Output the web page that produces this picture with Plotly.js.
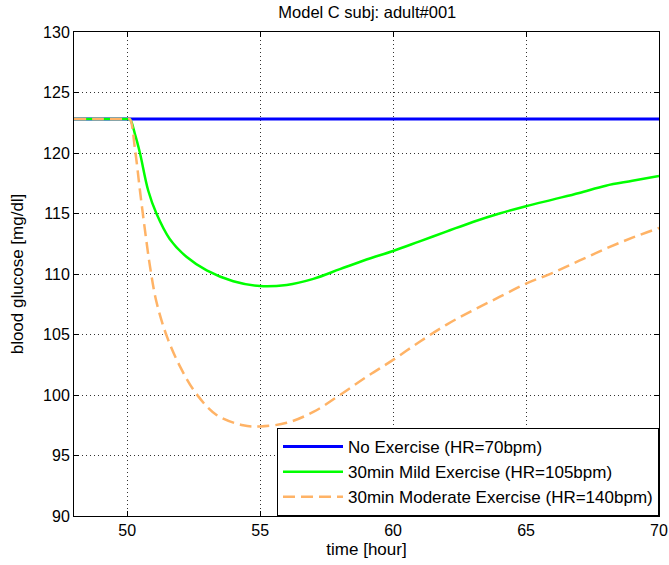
<!DOCTYPE html>
<html>
<head>
<meta charset="utf-8">
<script src="https://cdn.plot.ly/plotly-3.0.1.min.js"></script>
<style>html,body{margin:0;padding:0;background:#fff;}</style>
</head>
<body>
<div id="chart" style="width:669px;height:565px;"></div>
<script>
// Data
const tNone = [48, 70];
const gNone = [122.8, 122.8];

const tMild = [48, 49, 50, 50.1, 50.3, 50.48, 50.79, 51.1, 51.6, 52.24, 52.99, 53.99, 55, 56, 57, 58, 59, 60, 61, 62, 63, 64, 65, 66, 67, 68, 69, 70];
const gMild = [122.8, 122.8, 122.8, 122.8, 121.5, 120, 116.9, 115, 112.9, 111.4, 110.3, 109.4, 109.0, 109.1, 109.6, 110.4, 111.2, 111.9, 112.7, 113.5, 114.3, 115.0, 115.6, 116.15, 116.7, 117.3, 117.7, 118.1];

const tMod = [48, 49, 50, 50.1, 50.3, 50.48, 50.67, 50.86, 51.1, 51.5, 52.0, 52.6, 53.36, 54.36, 55, 56, 57, 58, 59, 60, 61, 62, 63, 64, 65, 66, 67, 68, 69, 70];
const gMod = [122.8, 122.8, 122.8, 122.8, 120.2, 116.9, 113.6, 110.6, 107.7, 104.8, 102.3, 100.1, 98.35, 97.5, 97.4, 97.7, 98.6, 100.0, 101.5, 102.9, 104.4, 105.8, 107.0, 108.1, 109.2, 110.1, 111.1, 112.1, 113.0, 113.8];

const names = ["No Exercise (HR=70bpm)", "30min Mild Exercise (HR=105bpm)", "30min Moderate Exercise (HR=140bpm)"];
const xTicks = [50, 55, 60, 65, 70];
const yTicks = [90, 95, 100, 105, 110, 115, 120, 125, 130];

const FONT = "Liberation Sans, Arial, sans-serif";

const traces = [
  {x: tNone, y: gNone, name: names[0], mode: "lines", line: {color: "#0000ff", width: 3}},
  {x: tMild, y: gMild, name: names[1], mode: "lines", line: {color: "#00ff00", width: 2.5, shape: "spline", smoothing: 1}},
  {x: tMod, y: gMod, name: names[2], mode: "lines", line: {color: "#ffb366", width: 2.5, dash: "12px,6px", shape: "spline", smoothing: 1}}
];

const axisCommon = {
  showline: true, linecolor: "#000", linewidth: 1, mirror: "ticks",
  ticks: "inside", ticklen: 5, tickcolor: "#000",
  showgrid: true, gridcolor: "rgba(0,0,0,0.8)", griddash: "1px,3px", gridwidth: 1,
  zeroline: false,
  tickfont: {family: FONT, size: 16, color: "#000"}
};

const layout = {
  width: 669, height: 565,
  margin: {l: 74, r: 10, t: 32, b: 49},
  paper_bgcolor: "#fff", plot_bgcolor: "#fff",
  font: {family: FONT, size: 16, color: "#000"},
  title: {text: "Model C subj: adult#001", font: {family: FONT, size: 16.5, color: "#000"}, x: 0.549, xanchor: "center", y: 0.978, yanchor: "middle"},
  xaxis: Object.assign({}, axisCommon, {
    range: [48, 70], tickvals: xTicks, ticktext: xTicks.map(String),
    title: {text: "time [hour]", font: {family: FONT, size: 17, color: "#000"}, standoff: 4}
  }),
  yaxis: Object.assign({}, axisCommon, {
    range: [90, 130], tickvals: yTicks, ticktext: yTicks.map(String),
    title: {text: "blood glucose [mg/dl]", font: {family: FONT, size: 17, color: "#000"}, standoff: 15}
  }),
  showlegend: true,
  legend: {
    x: 1, xanchor: "right", y: 0, yanchor: "bottom",
    bgcolor: "#fff", bordercolor: "#000", borderwidth: 1,
    font: {family: FONT, size: 17, color: "#000"},
    itemwidth: 60, tracegroupgap: 0
  }
};

Plotly.newPlot("chart", traces, layout, {displayModeBar: false, staticPlot: true});
</script>
</body>
</html>
